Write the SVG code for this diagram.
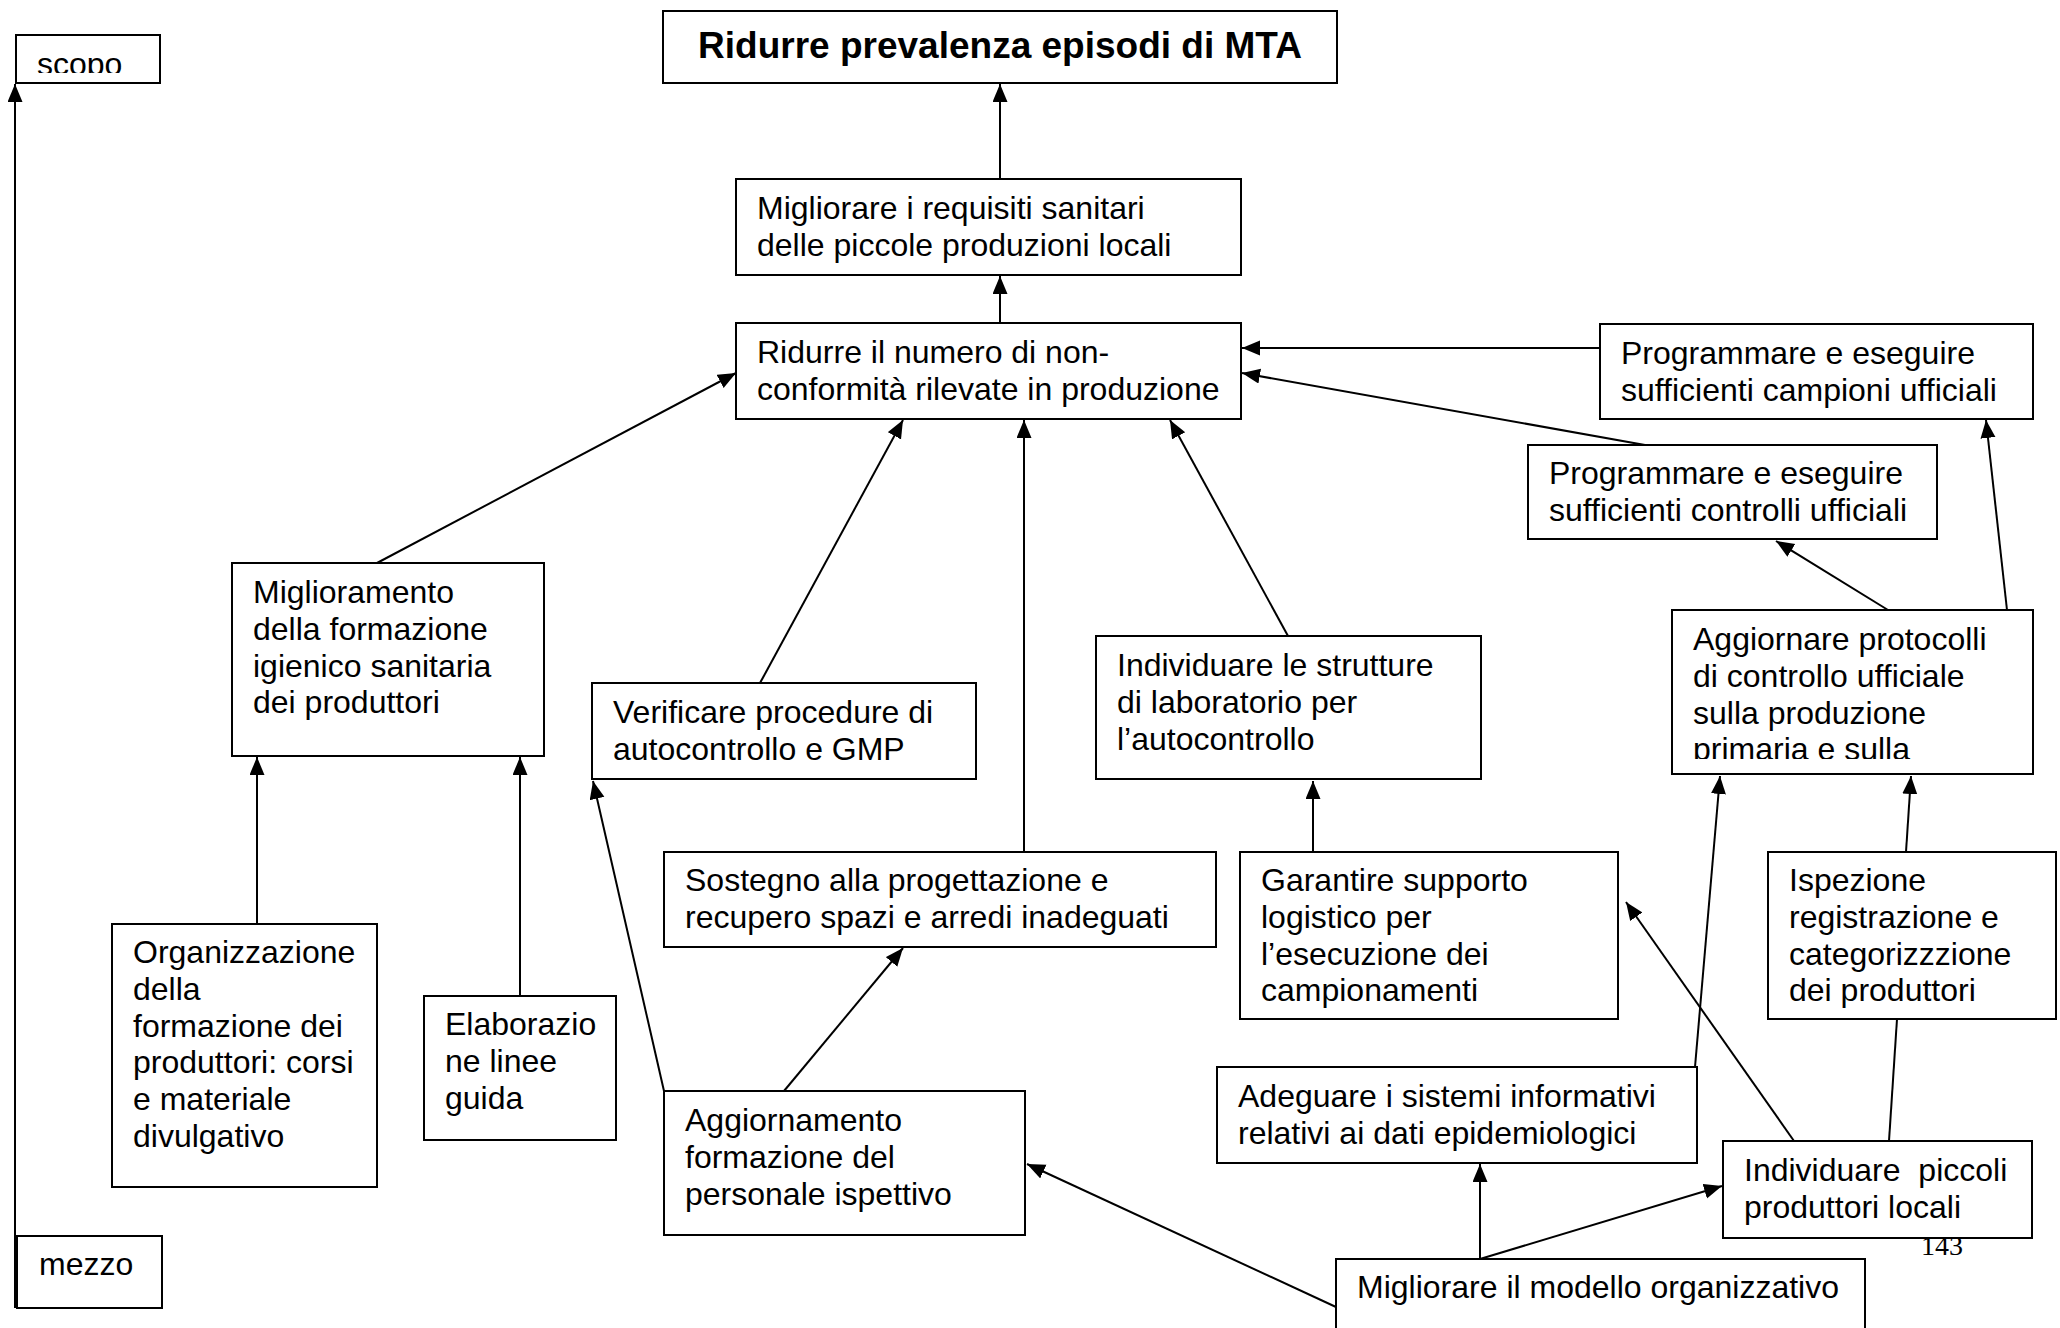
<svg xmlns="http://www.w3.org/2000/svg" width="2060" height="1328" viewBox="0 0 2060 1328">
<style>
.box{fill:#fff;stroke:#000;stroke-width:2}
.t{font-family:"Liberation Sans",Arial,sans-serif;font-size:32px;fill:#000}
.title{font-family:"Liberation Sans",Arial,sans-serif;font-size:37px;font-weight:bold;fill:#000}
.pg{font-family:"Liberation Serif","Times New Roman",serif;font-size:28px;fill:#000}
.c line{stroke:#000;stroke-width:2}
</style>
<defs>
<marker id="ah" markerUnits="userSpaceOnUse" markerWidth="19" markerHeight="16" refX="18" refY="7.5" orient="auto">
<path d="M0,0 L18,7.5 L0,15 z" fill="#000"/>
</marker>
<clipPath id="clipScopo"><rect x="16" y="35" width="144" height="38"/></clipPath>
<clipPath id="clipH"><rect x="1672" y="610" width="361" height="149"/></clipPath>
</defs>
<rect width="2060" height="1328" fill="#fff"/>

<text class="pg" x="1921" y="1255">143</text>

<g id="connectors" class="c">
<line x1="15" y1="1308" x2="15" y2="84" marker-end="url(#ah)"/>
<line x1="1000" y1="179" x2="1000" y2="84" marker-end="url(#ah)"/>
<line x1="1000" y1="323" x2="1000" y2="276" marker-end="url(#ah)"/>
<line x1="1600" y1="348" x2="1242" y2="348" marker-end="url(#ah)"/>
<line x1="1645" y1="445" x2="1242" y2="373" marker-end="url(#ah)"/>
<line x1="377" y1="563" x2="736" y2="373" marker-end="url(#ah)"/>
<line x1="760" y1="683" x2="903" y2="420" marker-end="url(#ah)"/>
<line x1="1024" y1="852" x2="1024" y2="420" marker-end="url(#ah)"/>
<line x1="1288" y1="636" x2="1170" y2="420" marker-end="url(#ah)"/>
<line x1="257" y1="924" x2="257" y2="757" marker-end="url(#ah)"/>
<line x1="520" y1="996" x2="520" y2="757" marker-end="url(#ah)"/>
<line x1="664" y1="1091" x2="593" y2="781" marker-end="url(#ah)"/>
<line x1="784" y1="1091" x2="903" y2="948" marker-end="url(#ah)"/>
<line x1="1313" y1="852" x2="1313" y2="781" marker-end="url(#ah)"/>
<line x1="1695" y1="1067" x2="1720" y2="776" marker-end="url(#ah)"/>
<line x1="1906" y1="852" x2="1911" y2="776" marker-end="url(#ah)"/>
<line x1="1794" y1="1141" x2="1626" y2="902" marker-end="url(#ah)"/>
<line x1="1897" y1="1019" x2="1889" y2="1141"/>
<line x1="1888" y1="610" x2="1776" y2="541" marker-end="url(#ah)"/>
<line x1="2007" y1="610" x2="1986" y2="420" marker-end="url(#ah)"/>
<line x1="1480" y1="1259" x2="1480" y2="1164" marker-end="url(#ah)"/>
<line x1="1480" y1="1259" x2="1722" y2="1186" marker-end="url(#ah)"/>
<line x1="1336" y1="1307" x2="1027" y2="1164" marker-end="url(#ah)"/>
</g>

<g id="scopo">
<rect class="box" x="16" y="35" width="144" height="48"/>
<text class="t" x="37" y="75" clip-path="url(#clipScopo)">scopo</text>
</g>
<g id="mezzo">
<rect class="box" x="17" y="1236" width="145" height="72"/>
<text class="t" x="39" y="1275">mezzo</text>
</g>
<g id="title">
<rect class="box" x="663" y="11" width="674" height="72"/>
<text class="title" x="1000" y="58" text-anchor="middle">Ridurre prevalenza episodi di MTA</text>
</g>
<g id="nodeA">
<rect class="box" x="736" y="179" width="505" height="96"/>
<text class="t" x="757" y="219"><tspan x="757">Migliorare i requisiti sanitari</tspan><tspan x="757" dy="36.8">delle piccole produzioni locali</tspan></text>
</g>
<g id="nodeB">
<rect class="box" x="736" y="323" width="505" height="96"/>
<text class="t" x="757" y="363"><tspan x="757">Ridurre il numero di non-</tspan><tspan x="757" dy="36.8">conformità rilevate in produzione</tspan></text>
</g>
<g id="nodeC">
<rect class="box" x="1600" y="324" width="433" height="95"/>
<text class="t" x="1621" y="364"><tspan x="1621">Programmare e eseguire</tspan><tspan x="1621" dy="36.8">sufficienti campioni ufficiali</tspan></text>
</g>
<g id="nodeD">
<rect class="box" x="1528" y="445" width="409" height="94"/>
<text class="t" x="1549" y="484"><tspan x="1549">Programmare e eseguire</tspan><tspan x="1549" dy="36.8">sufficienti controlli ufficiali</tspan></text>
</g>
<g id="nodeE">
<rect class="box" x="232" y="563" width="312" height="193"/>
<text class="t" x="253" y="603"><tspan x="253">Miglioramento</tspan><tspan x="253" dy="36.8">della formazione</tspan><tspan x="253" dy="36.8">igienico sanitaria</tspan><tspan x="253" dy="36.8">dei produttori</tspan></text>
</g>
<g id="nodeF">
<rect class="box" x="592" y="683" width="384" height="96"/>
<text class="t" x="613" y="723"><tspan x="613">Verificare procedure di</tspan><tspan x="613" dy="36.8">autocontrollo e GMP</tspan></text>
</g>
<g id="nodeG">
<rect class="box" x="1096" y="636" width="385" height="143"/>
<text class="t" x="1117" y="676"><tspan x="1117">Individuare le strutture</tspan><tspan x="1117" dy="36.8">di laboratorio per</tspan><tspan x="1117" dy="36.8">l’autocontrollo</tspan></text>
</g>
<g id="nodeH">
<rect class="box" x="1672" y="610" width="361" height="164"/>
<text class="t" x="1693" y="650" clip-path="url(#clipH)"><tspan x="1693">Aggiornare protocolli</tspan><tspan x="1693" dy="36.8">di controllo ufficiale</tspan><tspan x="1693" dy="36.8">sulla produzione</tspan><tspan x="1693" dy="36.8">primaria e sulla</tspan></text>
</g>
<g id="nodeI">
<rect class="box" x="664" y="852" width="552" height="95"/>
<text class="t" x="685" y="891"><tspan x="685">Sostegno alla progettazione e</tspan><tspan x="685" dy="36.8">recupero spazi e arredi inadeguati</tspan></text>
</g>
<g id="nodeJ">
<rect class="box" x="1240" y="852" width="378" height="167"/>
<text class="t" x="1261" y="891"><tspan x="1261">Garantire supporto</tspan><tspan x="1261" dy="36.8">logistico per</tspan><tspan x="1261" dy="36.8">l’esecuzione dei</tspan><tspan x="1261" dy="36.8">campionamenti</tspan></text>
</g>
<g id="nodeK">
<rect class="box" x="1768" y="852" width="288" height="167"/>
<text class="t" x="1789" y="891"><tspan x="1789">Ispezione</tspan><tspan x="1789" dy="36.8">registrazione e</tspan><tspan x="1789" dy="36.8">categorizzzione</tspan><tspan x="1789" dy="36.8">dei produttori</tspan></text>
</g>
<g id="nodeL">
<rect class="box" x="112" y="924" width="265" height="263"/>
<text class="t" x="133" y="963"><tspan x="133">Organizzazione</tspan><tspan x="133" dy="36.8">della</tspan><tspan x="133" dy="36.8">formazione dei</tspan><tspan x="133" dy="36.8">produttori: corsi</tspan><tspan x="133" dy="36.8">e materiale</tspan><tspan x="133" dy="36.8">divulgativo</tspan></text>
</g>
<g id="nodeM">
<rect class="box" x="424" y="996" width="192" height="144"/>
<text class="t" x="445" y="1035"><tspan x="445">Elaborazio</tspan><tspan x="445" dy="36.8">ne linee</tspan><tspan x="445" dy="36.8">guida</tspan></text>
</g>
<g id="nodeN">
<rect class="box" x="664" y="1091" width="361" height="144"/>
<text class="t" x="685" y="1131"><tspan x="685">Aggiornamento</tspan><tspan x="685" dy="36.8">formazione del</tspan><tspan x="685" dy="36.8">personale ispettivo</tspan></text>
</g>
<g id="nodeO">
<rect class="box" x="1217" y="1067" width="480" height="96"/>
<text class="t" x="1238" y="1107"><tspan x="1238">Adeguare i sistemi informativi</tspan><tspan x="1238" dy="36.8">relativi ai dati epidemiologici</tspan></text>
</g>
<g id="nodeP">
<rect class="box" x="1723" y="1141" width="309" height="97"/>
<text class="t" x="1744" y="1181" xml:space="preserve"><tspan x="1744">Individuare  piccoli</tspan><tspan x="1744" dy="36.8">produttori locali</tspan></text>
</g>
<g id="nodeQ">
<rect class="box" x="1336" y="1259" width="529" height="90"/>
<text class="t" x="1357" y="1298">Migliorare il modello organizzativo</text>
</g>
</svg>
